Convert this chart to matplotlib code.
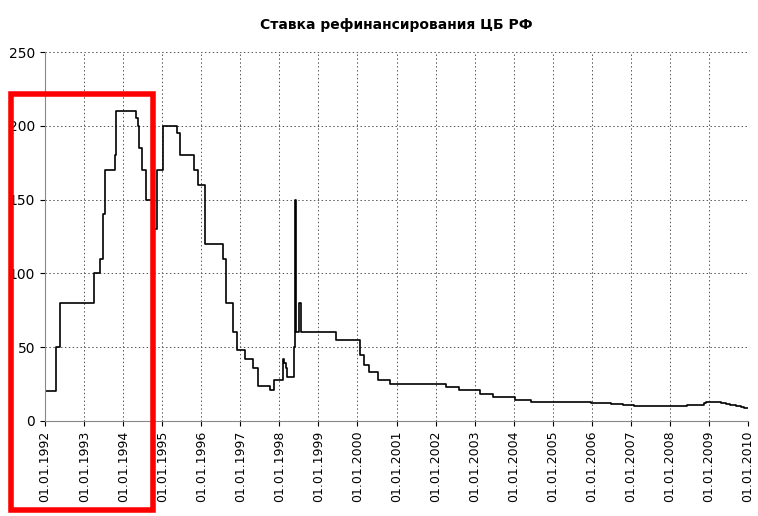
import matplotlib
matplotlib.use("Agg")
import matplotlib.pyplot as plt
import matplotlib.dates as mdates
from matplotlib.patches import Rectangle
import datetime as dt

dates = ["1992-01-01","1992-04-10","1992-05-23","1993-03-30","1993-06-02","1993-06-22","1993-06-29","1993-07-15",
"1993-10-15","1993-10-23","1994-04-29","1994-05-17","1994-06-02","1994-06-22","1994-08-01","1994-10-12","1994-11-17",
"1995-01-06","1995-05-16","1995-06-19","1995-10-24","1995-12-01","1996-02-10","1996-07-24","1996-08-19","1996-10-21",
"1996-12-02","1997-02-10","1997-04-28","1997-06-16","1997-10-06","1997-11-11","1998-02-02","1998-02-17","1998-03-02",
"1998-03-16","1998-05-19","1998-05-27","1998-06-05","1998-06-29","1998-07-24","1999-06-10","2000-01-24","2000-03-07",
"2000-04-21","2000-07-10","2000-11-04","2002-04-09","2002-08-07","2003-02-17","2003-06-21","2004-01-15","2004-06-15",
"2005-12-26","2006-06-26","2006-10-23","2007-01-29","2007-06-19","2008-02-04","2008-04-29","2008-06-10","2008-07-14",
"2008-11-12","2008-12-01","2009-04-24","2009-05-14","2009-06-05","2009-07-13","2009-08-10","2009-09-15","2009-09-30",
"2009-10-30","2009-11-25","2009-12-28","2010-01-01"]
rates = [20,50,80,100,110,120,140,170,180,210,205,200,185,170,150,130,170,
200,195,180,170,160,120,110,80,60,48,42,36,24,21,28,42,39,36,30,50,150,60,80,60,55,45,38,
33,28,25,23,21,18,16,14,13,12,11.5,11,10.5,10,10.25,10.5,10.75,11,12,13,12.5,12,11.5,11,10.75,10.5,10,
9.5,9,8.75,8.75]
tick_years = list(range(1992, 2011))

x = [dt.datetime.strptime(d, "%Y-%m-%d") for d in dates]
fig = plt.figure(figsize=(7.58, 5.16), dpi=100)
ax = fig.add_axes([45/758, 1-421/516, (748-45)/758, (421-52)/516])
ax.step(x, rates, where="post", color="black", lw=1.2)
ax.set_ylim(0, 250)
ax.set_xlim(dt.datetime(1992,1,1), dt.datetime(2010,1,1))
ax.set_yticks(range(0, 251, 50))
ax.set_xticks([dt.datetime(y,1,1) for y in tick_years])
ax.set_xticklabels([f"01.01.{y}" for y in tick_years], rotation=90, fontsize=9)
ax.tick_params(axis="y", labelsize=10)
ax.grid(True, color="#555555", linestyle=(0,(1.5,2.5)), lw=0.7)
for s in ["top","right"]:
    ax.spines[s].set_visible(False)
ax.spines["left"].set_color("#888888")
ax.spines["bottom"].set_color("#888888")
fig.text(396/758, 1-25/516, "Ставка рефинансирования ЦБ РФ", ha="center", va="center", fontsize=10, fontweight="bold")
fig.patches.append(Rectangle((11/758, 1-510/516), (153-11)/758, (510-94)/516, transform=fig.transFigure,
                             fill=False, edgecolor="#ff0000", lw=4, zorder=10))
fig.savefig("out.png", dpi=100, facecolor="white")
